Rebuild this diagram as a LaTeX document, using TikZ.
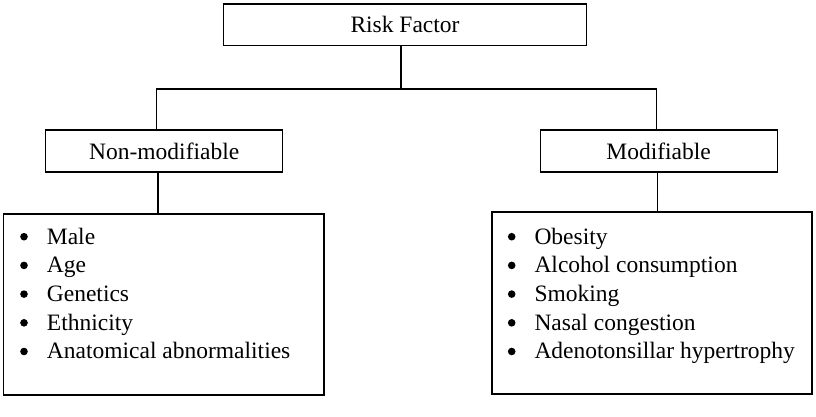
\documentclass[tikz,border=0pt]{standalone}
\usepackage{fontspec}
\setmainfont{Liberation Serif}
\begin{document}
\begin{tikzpicture}[x=1pt,y=-1pt,
  every node/.style={font=\fontsize{23.5}{28.7}\selectfont},
  box/.style={draw, line width=1.2pt, inner sep=0pt},
  conn/.style={line width=1.2pt},
  item/.style={anchor=base west, inner sep=0pt},
  dot/.style={fill=black}]
\useasboundingbox (0,0) rectangle (816,416);
% top
\node[box, minimum width=363.4pt, minimum height=41.7pt] (rf) at (405,24.9) {Risk Factor};
% second level
\node[box, minimum width=237pt, minimum height=42pt] (nm) at (164.2,151) {Non-modifiable};
\node[box, minimum width=237pt, minimum height=42pt] (m) at (658.6,151) {Modifiable};
% lists
\node[box, minimum width=320.3pt, minimum height=181pt] (ln) at (163.8,304.5) {};
\node[box, minimum width=320pt, minimum height=182pt] (lm) at (652,303) {};
% connectors
\coordinate (j) at (401,89);
\coordinate (jl) at (156.7,89);
\coordinate (jr) at (656.3,89);
\draw[conn] (rf.south -| j) -- (j);
\draw[conn] (jl |- nm.north) -- (jl) -- (jr) -- (jr |- m.north);
\draw[conn] (nm.south -| 158,0) -- (ln.north -| 158,0);
\draw[conn] (m.south -| 657.7,0) -- (lm.north -| 657.7,0);
% items
\foreach \t [count=\i] in {Male,Age,Genetics,Ethnicity,Anatomical abnormalities}{
  \node[item] (n\i) at (46.7,244+28.7*\i-28.7) {\t};
  \fill[dot] ([xshift=-22.7pt,yshift=7.3pt]n\i.base west) circle (3.8pt);
}
\foreach \t [count=\i] in {Obesity,Alcohol consumption,Smoking,Nasal congestion,Adenotonsillar hypertrophy}{
  \node[item] (r\i) at (534.3,244+28.7*\i-28.7) {\t};
  \fill[dot] ([xshift=-22.6pt,yshift=7.3pt]r\i.base west) circle (3.8pt);
}
\end{tikzpicture}
\end{document}
